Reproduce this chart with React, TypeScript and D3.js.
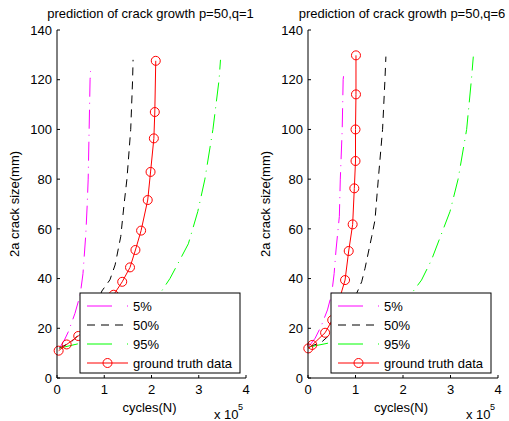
import React from "react";
import * as d3 from "d3";

// Cycles are expressed in units of 10^5, crack size 2a in mm.
type Pt = [number, number];

const xTicks = [0, 1, 2, 3, 4];
const yTicks = [0, 20, 40, 60, 80, 100, 120, 140];
const legendLabels = ["5%", "50%", "95%", "ground truth data"];

// Panel 1: p=50, q=1
const p5Left: Pt[] = [[0.05, 12], [0.15, 15], [0.24, 18.6], [0.38, 26], [0.49, 33.4], [0.55, 42], [0.61, 58], [0.64, 70], [0.66, 80], [0.68, 100], [0.7, 120], [0.71, 123.5]];
const p50Left: Pt[] = [[0.05, 12], [0.3, 14.5], [0.55, 19], [0.75, 25], [0.95, 35], [1.12, 39.5], [1.23, 45.5], [1.35, 57], [1.42, 70], [1.48, 80], [1.56, 100], [1.6, 120], [1.61, 128]];
const p95Left: Pt[] = [[0.05, 12], [0.5, 14], [1.0, 17], [1.5, 22], [1.9, 28], [2.18, 34], [2.39, 40], [2.6, 47.5], [2.78, 54], [2.98, 67], [3.13, 80], [3.3, 100], [3.43, 120], [3.46, 128]];
const truthLeft: Pt[] = [[0.035, 11], [0.205, 13.5], [0.45, 16.9], [0.75, 21.5], [1.0, 27], [1.2, 33.5], [1.38, 38.7], [1.545, 44.5], [1.66, 51.5], [1.78, 59.3], [1.92, 71.6], [1.98, 82.9], [2.05, 96.4], [2.07, 107], [2.09, 127.6]];

// Panel 2: p=50, q=6
const p5Right: Pt[] = [[0.03, 13], [0.15, 16], [0.28, 21], [0.41, 27.4], [0.5, 34], [0.55, 42], [0.59, 51.5], [0.66, 65], [0.68, 80], [0.72, 100], [0.74, 120], [0.76, 123.5]];
const p50Right: Pt[] = [[0.03, 12.5], [0.29, 14.5], [0.55, 19], [0.8, 26], [1.0, 33], [1.13, 38.7], [1.2, 44.1], [1.34, 56.8], [1.41, 63.5], [1.48, 80], [1.57, 100], [1.62, 120], [1.64, 129.3]];
const p95Right: Pt[] = [[0.03, 12.5], [0.42, 14], [1.0, 17.5], [1.5, 22.5], [1.9, 28], [2.18, 34], [2.39, 39.4], [2.6, 47.5], [2.99, 67], [3.16, 80], [3.34, 100], [3.44, 120], [3.48, 129.3]];
const truthRight: Pt[] = [[0.006, 11.9], [0.09, 13.3], [0.36, 18.2], [0.51, 23.3], [0.65, 31], [0.78, 39.4], [0.857, 51.1], [0.94, 61.8], [0.975, 76.3], [1.0, 87.3], [1.0, 100], [1.01, 114.1], [1.01, 129.8]];

const FONT = "'Liberation Sans', Arial, Helvetica, sans-serif";
const FS = 13;
const MAGENTA = "#ff00ff";
const GREEN = "#00ff00";
const RED = "#ff0000";
const DASHDOT = "19,6,1,6";
const DASHDOT_KEY = "25,15,2,15";
const DASHED = "8,6";

interface PanelProps {
  title: string;
  left: number;
  right: number;
  p5: Pt[];
  p50: Pt[];
  p95: Pt[];
  truth: Pt[];
}

const TOP = 30;
const BOTTOM = 378;

function Panel({ title, left, right, p5, p50, p95, truth }: PanelProps) {
  const x = d3.scaleLinear().domain([0, 4]).range([left, right]);
  const y = d3.scaleLinear().domain([0, 140]).range([BOTTOM, TOP]);
  const line = d3
    .line<Pt>()
    .x((d) => x(d[0]))
    .y((d) => y(d[1]));
  const cx = (left + right) / 2;
  const cy = (TOP + BOTTOM) / 2;

  const lgX = left + 23;
  const lgY = 293;
  const lgW = 160;
  const lgH = 80;
  const rows = [13, 32, 51, 70];
  const sx0 = lgX + 7;
  const sx1 = lgX + 48;
  const tx = lgX + 53;

  return (
    <g>
      <text x={cx - 1} y={18} textAnchor="middle" fontSize={FS} fontFamily={FONT} fill="#000">
        {title}
      </text>

      {/* curves */}
      <path d={line(p5) || ""} fill="none" stroke={MAGENTA} strokeWidth={1} strokeDasharray={DASHDOT} />
      <path d={line(p50) || ""} fill="none" stroke="#000" strokeWidth={1} strokeDasharray={DASHED} />
      <path d={line(p95) || ""} fill="none" stroke={GREEN} strokeWidth={1} strokeDasharray={DASHDOT} />
      <path d={line(truth) || ""} fill="none" stroke={RED} strokeWidth={1} />
      {truth.map((d, i) => (
        <circle key={i} cx={x(d[0])} cy={y(d[1])} r={4.5} fill="none" stroke={RED} strokeWidth={1} />
      ))}

      {/* axes */}
      <line x1={left} x2={left} y1={TOP} y2={BOTTOM} stroke="#000" strokeWidth={1} />
      <line x1={left} x2={right} y1={BOTTOM} y2={BOTTOM} stroke="#000" strokeWidth={1} />
      {yTicks.map((t) => (
        <g key={"y" + t}>
          <line x1={left} x2={left + 3} y1={y(t)} y2={y(t)} stroke="#000" strokeWidth={1} />
          <text x={left - 5} y={y(t)} dy="0.36em" textAnchor="end" fontSize={FS} fontFamily={FONT}>
            {t}
          </text>
        </g>
      ))}
      {xTicks.map((t) => (
        <g key={"x" + t}>
          <line x1={x(t)} x2={x(t)} y1={BOTTOM} y2={BOTTOM - 3} stroke="#000" strokeWidth={1} />
          <text x={x(t)} y={394} textAnchor="middle" fontSize={FS} fontFamily={FONT}>
            {t}
          </text>
        </g>
      ))}
      <text x={cx - 2} y={412} textAnchor="middle" fontSize={FS} fontFamily={FONT}>
        cycles(N)
      </text>
      <text x={right - 32} y={419} fontSize={FS} fontFamily={FONT}>
        x 10
      </text>
      <text x={right - 8} y={410} fontSize={9} fontFamily={FONT}>
        5
      </text>
      <text
        transform={`translate(${left - 38},${cy}) rotate(-90)`}
        textAnchor="middle"
        fontSize={FS}
        fontFamily={FONT}
      >
        2a crack size(mm)
      </text>

      {/* legend */}
      <rect x={lgX} y={lgY} width={lgW} height={lgH} fill="#fff" stroke="#000" strokeWidth={1} />
      {[
        { c: MAGENTA, dash: DASHDOT_KEY },
        { c: "#000", dash: DASHED },
        { c: GREEN, dash: DASHDOT_KEY },
        { c: RED, dash: "" },
      ].map((s, i) => (
        <g key={"lg" + i}>
          <line
            x1={sx0}
            x2={sx1}
            y1={lgY + rows[i]}
            y2={lgY + rows[i]}
            stroke={s.c}
            strokeWidth={1}
            strokeDasharray={s.dash || undefined}
          />
          {i === 3 && (
            <circle cx={(sx0 + sx1) / 2} cy={lgY + rows[i]} r={4.5} fill="none" stroke={RED} strokeWidth={1} />
          )}
          <text x={tx} y={lgY + rows[i]} dy="0.36em" fontSize={FS} fontFamily={FONT}>
            {legendLabels[i]}
          </text>
        </g>
      ))}
    </g>
  );
}

export default function App() {
  return (
    <svg width={509} height={421} style={{ position: "absolute", left: 0, top: 0, background: "#fff" }}>
      <rect width={509} height={421} fill="#fff" />
      <Panel
        title="prediction of crack growth p=50,q=1"
        left={57}
        right={246}
        p5={p5Left}
        p50={p50Left}
        p95={p95Left}
        truth={truthLeft}
      />
      <Panel
        title="prediction of crack growth p=50,q=6"
        left={308}
        right={498}
        p5={p5Right}
        p50={p50Right}
        p95={p95Right}
        truth={truthRight}
      />
    </svg>
  );
}
